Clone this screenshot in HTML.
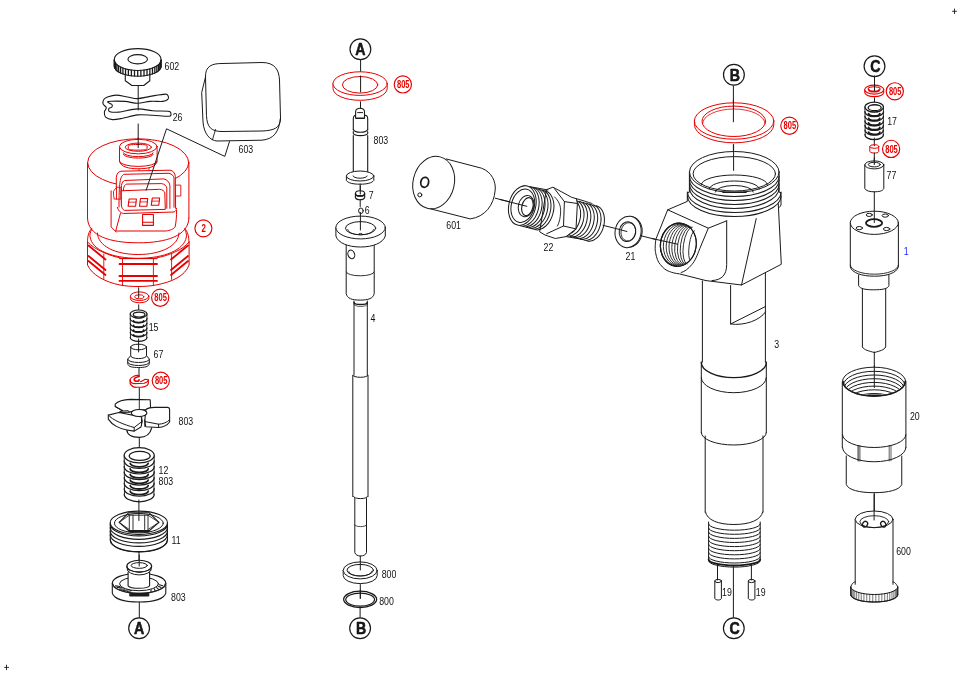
<!DOCTYPE html>
<html><head><meta charset="utf-8"><style>
html,body{margin:0;padding:0;background:#fff;width:960px;height:678px;overflow:hidden}
svg{display:block;will-change:transform}
text{font-family:"Liberation Sans",sans-serif}
</style></head><body>
<svg width="960" height="678" viewBox="0 0 960 678" stroke-linecap="round" stroke-linejoin="round">
<rect width="960" height="678" fill="#fff"/>
<line x1="952.50" y1="11.30" x2="956.50" y2="11.30" stroke="#1a1a1a" stroke-width="0.9"/>
<line x1="954.50" y1="9.00" x2="954.50" y2="13.60" stroke="#1a1a1a" stroke-width="0.9"/>
<line x1="4.60" y1="667.40" x2="8.60" y2="667.40" stroke="#1a1a1a" stroke-width="0.9"/>
<line x1="6.50" y1="665.10" x2="6.50" y2="669.70" stroke="#1a1a1a" stroke-width="0.9"/>
<line x1="138.20" y1="85.50" x2="138.20" y2="110.00" stroke="#1a1a1a" stroke-width="1"/>
<line x1="138.20" y1="124.00" x2="138.20" y2="147.00" stroke="#1a1a1a" stroke-width="1"/>
<path d="M114.3,59.6 A23.4,10.95 0 0 1 161.1,59.6 L161.1,66.2 A23.4,10 0 0 1 114.3,66.2 Z" fill="#fff" stroke="#1a1a1a" stroke-width="1.1"/>
<path d="M114.30,59.60 A23.40,10.95 0 0 0 161.10,59.60" fill="none" stroke="#1a1a1a" stroke-width="1.1"/>
<line x1="114.35" y1="60.35" x2="114.35" y2="66.88" stroke="#1a1a1a" stroke-width="1.3"/>
<line x1="114.79" y1="61.83" x2="114.79" y2="68.23" stroke="#1a1a1a" stroke-width="1.3"/>
<line x1="115.65" y1="63.27" x2="115.65" y2="69.55" stroke="#1a1a1a" stroke-width="1.3"/>
<line x1="116.92" y1="64.64" x2="116.92" y2="70.80" stroke="#1a1a1a" stroke-width="1.3"/>
<line x1="118.58" y1="65.91" x2="118.58" y2="71.97" stroke="#1a1a1a" stroke-width="1.3"/>
<line x1="120.60" y1="67.07" x2="120.60" y2="73.03" stroke="#1a1a1a" stroke-width="1.3"/>
<line x1="122.93" y1="68.09" x2="122.93" y2="73.96" stroke="#1a1a1a" stroke-width="1.3"/>
<line x1="125.54" y1="68.96" x2="125.54" y2="74.74" stroke="#1a1a1a" stroke-width="1.3"/>
<line x1="128.38" y1="69.64" x2="128.38" y2="75.37" stroke="#1a1a1a" stroke-width="1.3"/>
<line x1="131.39" y1="70.14" x2="131.39" y2="75.83" stroke="#1a1a1a" stroke-width="1.3"/>
<line x1="134.51" y1="70.45" x2="134.51" y2="76.11" stroke="#1a1a1a" stroke-width="1.3"/>
<line x1="137.70" y1="70.55" x2="137.70" y2="76.20" stroke="#1a1a1a" stroke-width="1.3"/>
<line x1="140.89" y1="70.45" x2="140.89" y2="76.11" stroke="#1a1a1a" stroke-width="1.3"/>
<line x1="144.01" y1="70.14" x2="144.01" y2="75.83" stroke="#1a1a1a" stroke-width="1.3"/>
<line x1="147.02" y1="69.64" x2="147.02" y2="75.37" stroke="#1a1a1a" stroke-width="1.3"/>
<line x1="149.86" y1="68.96" x2="149.86" y2="74.74" stroke="#1a1a1a" stroke-width="1.3"/>
<line x1="152.47" y1="68.09" x2="152.47" y2="73.96" stroke="#1a1a1a" stroke-width="1.3"/>
<line x1="154.80" y1="67.07" x2="154.80" y2="73.03" stroke="#1a1a1a" stroke-width="1.3"/>
<line x1="156.82" y1="65.91" x2="156.82" y2="71.97" stroke="#1a1a1a" stroke-width="1.3"/>
<line x1="158.48" y1="64.64" x2="158.48" y2="70.80" stroke="#1a1a1a" stroke-width="1.3"/>
<line x1="159.75" y1="63.27" x2="159.75" y2="69.55" stroke="#1a1a1a" stroke-width="1.3"/>
<line x1="160.61" y1="61.83" x2="160.61" y2="68.23" stroke="#1a1a1a" stroke-width="1.3"/>
<line x1="161.05" y1="60.35" x2="161.05" y2="66.88" stroke="#1a1a1a" stroke-width="1.3"/>
<ellipse cx="137.70" cy="59.25" rx="9.80" ry="4.65" fill="none" stroke="#1a1a1a" stroke-width="1.1"/>
<path d="M125.3,74 L125.3,80.8 L131.9,85.5 L143.8,85.5 L149.8,80.8 L149.8,74" fill="none" stroke="#1a1a1a" stroke-width="1.1"/>
<path d="M107.50,97.00 C109.58,96.27 112.95,95.10 116.30,95.10 C119.65,95.10 124.05,96.42 127.60,97.00 C131.15,97.58 133.85,98.70 137.60,98.60 C141.35,98.50 145.50,97.15 150.10,96.40 C154.70,95.65 162.17,94.10 165.20,94.10 C168.23,94.10 167.88,95.50 168.30,96.40 C168.72,97.30 168.63,98.67 167.70,99.50 C166.77,100.33 165.63,101.08 162.70,101.40 C159.77,101.72 154.28,101.08 150.10,101.40 C145.92,101.72 141.77,103.30 137.60,103.30 C133.43,103.30 129.48,101.75 125.10,101.40 C120.72,101.05 114.23,101.10 111.30,101.20 C108.37,101.30 107.40,101.45 107.50,102.00 C107.60,102.55 111.17,103.67 111.90,104.50 C112.63,105.33 112.42,106.30 111.90,107.00 C111.38,107.70 109.12,107.92 108.80,108.70 C108.48,109.48 108.33,111.13 110.00,111.70 C111.67,112.27 114.20,112.57 118.80,112.10 C123.40,111.63 131.97,109.12 137.60,108.90 C143.23,108.68 147.48,110.42 152.60,110.80 C157.72,111.18 165.27,110.78 168.30,111.20 C171.33,111.62 170.70,112.47 170.80,113.30 C170.90,114.13 171.93,115.88 168.90,116.20 C165.87,116.52 157.82,115.42 152.60,115.20 C147.38,114.98 142.60,114.38 137.60,114.90 C132.60,115.42 126.78,117.52 122.60,118.30 C118.42,119.08 115.33,119.80 112.50,119.60 C109.67,119.40 106.95,118.37 105.60,117.10 C104.25,115.83 104.28,113.57 104.40,112.00 C104.52,110.43 106.52,109.05 106.30,107.70 C106.08,106.35 103.52,105.27 103.10,103.90 C102.68,102.53 103.07,100.65 103.80,99.50 C104.53,98.35 105.42,97.73 107.50,97.00 Z" fill="none" stroke="#1a1a1a" stroke-width="1.1"/>
<text x="0" y="0" font-size="10" fill="#111" text-anchor="start" transform="translate(164.50 70.10) scale(0.88 1)">602</text>
<text x="0" y="0" font-size="10" fill="#111" text-anchor="start" transform="translate(172.70 120.80) scale(0.88 1)">26</text>
<path d="M205.5,77 C205,66 212,63.5 222,63.5 L262,62.5 C275,62.5 279,70 279.5,80 L280.5,118 C280.5,128 274,130.5 262,131 L222,131.5 C211,131.5 207,127 206.5,116 Z" fill="none" stroke="#1a1a1a" stroke-width="1"/>
<path d="M205.5,77 L201.7,92.5 L203,122 C204,134 210,140.5 217,141 L262,140.2 C274,139 279,132 280.5,118" fill="none" stroke="#1a1a1a" stroke-width="1"/>
<line x1="215.50" y1="129.50" x2="212.50" y2="139.70" stroke="#1a1a1a" stroke-width="0.9"/>
<text x="0" y="0" font-size="10" fill="#111" text-anchor="start" transform="translate(238.50 152.60) scale(0.88 1)">603</text>
<path d="M87.5,242 L87.5,265 C92,275 105,282 120,285 C130,287 146,287 156,285 C172,282 185,276 189.1,265 L189.1,242" fill="none" stroke="#e60000" stroke-width="1"/>
<path d="M87.5,242 C95,250 110,256 122.6,258.5 L153.4,258.5 C168,256 183,250 189.1,242" fill="none" stroke="#e60000" stroke-width="1"/>
<line x1="122.50" y1="259.00" x2="122.50" y2="285.50" stroke="#e60000" stroke-width="0.9"/>
<line x1="153.40" y1="259.00" x2="153.40" y2="285.50" stroke="#e60000" stroke-width="0.9"/>
<line x1="103.80" y1="254.00" x2="103.80" y2="279.50" stroke="#e60000" stroke-width="0.9"/>
<line x1="171.60" y1="254.00" x2="171.60" y2="279.50" stroke="#e60000" stroke-width="0.9"/>
<line x1="119.50" y1="264.00" x2="157.00" y2="264.00" stroke="#e60000" stroke-width="1.9"/>
<line x1="119.50" y1="276.00" x2="157.00" y2="276.00" stroke="#e60000" stroke-width="1.9"/>
<line x1="119.50" y1="280.90" x2="157.00" y2="280.90" stroke="#e60000" stroke-width="1.9"/>
<line x1="88.50" y1="245.50" x2="105.50" y2="259.50" stroke="#e60000" stroke-width="1.8"/>
<line x1="188.00" y1="245.50" x2="171.00" y2="259.50" stroke="#e60000" stroke-width="1.8"/>
<line x1="88.50" y1="256.00" x2="105.50" y2="270.00" stroke="#e60000" stroke-width="1.8"/>
<line x1="188.00" y1="256.00" x2="171.00" y2="270.00" stroke="#e60000" stroke-width="1.8"/>
<line x1="88.50" y1="261.00" x2="105.50" y2="275.00" stroke="#e60000" stroke-width="1.8"/>
<line x1="188.00" y1="261.00" x2="171.00" y2="275.00" stroke="#e60000" stroke-width="1.8"/>
<line x1="119.50" y1="258.60" x2="157.00" y2="258.60" stroke="#e60000" stroke-width="1"/>
<line x1="87.50" y1="162.60" x2="87.50" y2="218.00" stroke="#e60000" stroke-width="1"/>
<line x1="188.90" y1="162.60" x2="188.90" y2="218.00" stroke="#e60000" stroke-width="1"/>
<path d="M87.5,218 C87.8,236 110,242.8 138.2,242.8 C166,242.8 188.6,236 188.9,218" fill="none" stroke="#e60000" stroke-width="1"/>
<path d="M91.7,228.4 C89,231 87.3,236 87.5,243" fill="none" stroke="#e60000" stroke-width="1"/>
<path d="M184.7,228.4 C187.4,231 189.1,236 188.9,243" fill="none" stroke="#e60000" stroke-width="1"/>
<path d="M91.7,229.2 C90,232 89.5,236 90.1,237 C92,250 112,258.3 138.2,258.3 C164,258.3 184.4,250 186.3,237 C186.9,236 186.4,232 184.7,229.2" fill="none" stroke="#e60000" stroke-width="1"/>
<path d="M97.4,233 C97.8,246 115,254.5 138.2,254.5 C161,254.5 178.6,246 179,233" fill="none" stroke="#e60000" stroke-width="1"/>
<ellipse cx="138.20" cy="162.60" rx="50.50" ry="23.80" fill="none" stroke="#e60000" stroke-width="1"/>
<path d="M119.5,146.6 L119.5,161.4 C121,167 129,168.8 138.3,168.8 C148,168.8 156,167 157.1,161.4 L157.1,146.6" fill="#fff" stroke="#e60000" stroke-width="1"/>
<ellipse cx="138.30" cy="146.60" rx="18.80" ry="7.25" fill="#fff" stroke="#e60000" stroke-width="1"/>
<ellipse cx="138.30" cy="147.20" rx="13.10" ry="4.10" fill="none" stroke="#e60000" stroke-width="1"/>
<path d="M128.3,146 C128.3,144.8 131,144.5 138,144.5 C145,144.5 147.1,144.8 147.1,146 L147.1,148.6 C147.1,149.8 145,150.1 138,150.1 C131,150.1 128.3,149.8 128.3,148.6 Z" fill="none" stroke="#e60000" stroke-width="1"/>
<path d="M123.30,152.80 A15.00,3.80 0 0 0 153.30,152.80" fill="none" stroke="#e60000" stroke-width="1"/>
<path d="M123.30,154.30 A15.00,3.80 0 0 0 153.30,154.30" fill="none" stroke="#e60000" stroke-width="1"/>
<path d="M119.50,161.40 A18.80,5.00 0 0 0 157.10,161.40" fill="none" stroke="#e60000" stroke-width="1"/>
<path d="M139,168.5 L139,170.5 M149,168 L149,170.5" fill="none" stroke="#e60000" stroke-width="0.8"/>
<line x1="138.20" y1="138.00" x2="138.20" y2="147.60" stroke="#1a1a1a" stroke-width="1"/>
<path d="M111.1,190.8 L111.1,226.9 L116.3,232.1 C118,232.8 120,233 123,233 L165.8,232 C170,231.5 174,229.5 175.1,226.9 C176.5,222 176.8,215 176.6,208.3 L176.6,186 L116.3,186 L116.3,186.7 L113.5,190.5 Z" fill="#fff" stroke="#e60000" stroke-width="0"/>
<path d="M116.3,186.7 L116.3,177.4 C116.8,173.5 118.5,171.4 121,171.2 L170,170.2 C173,170.5 175,173 175.3,176.4 L175.6,208.3" fill="#fff" stroke="#e60000" stroke-width="1"/>
<path d="M111.1,190.8 L111.1,226.9 L116.3,232.1" fill="none" stroke="#e60000" stroke-width="1"/>
<path d="M119,207 C119,183 120,176 124,174.3 L168.9,173.3 C172,174 174,176 174,178.4 L174,207.3" fill="none" stroke="#e60000" stroke-width="1"/>
<path d="M121.4,206 L121.4,185.6 C122,182.5 123,181 124.5,180.5 L163.7,178.9 C167,179.5 169.5,182 169.9,185.6 L169.9,208.3" fill="none" stroke="#e60000" stroke-width="1"/>
<path d="M123.5,206 L123.5,188.7 C124,186 125,184.5 126.6,184.1 L161.7,183.6 C164.5,184 166.5,186 166.8,188.2 L166.8,208.3" fill="none" stroke="#e60000" stroke-width="1"/>
<path d="M121.4,190.8 L159.6,189.3 C162.5,189.6 164.5,191 164.8,192.9 L165.3,209.4 L124.5,210.4 C122.5,209.5 121.4,207.5 121.4,205 Z" fill="#fff" stroke="#e60000" stroke-width="1"/>
<path d="M117.3,207.3 C118.5,211 120.5,213 123.5,213.5 L174,212 C175.5,211.5 176.3,210 176.6,208.3" fill="none" stroke="#e60000" stroke-width="1"/>
<path d="M120.4,213.5 L115.7,231 L165.8,231 C170,230.5 174,229 175.1,226.9 C176.2,222 176.6,216 176.6,210.4" fill="none" stroke="#e60000" stroke-width="1"/>
<path d="M113.7,191 L116.5,187.2 L120.9,187.2 L120.9,199.1 L114.2,199.1 L113.7,196 Z M116.5,187.2 L116.5,199.1" fill="none" stroke="#e60000" stroke-width="0.9"/>
<path d="M175.6,185.1 L180.8,185.1 L180.8,196 L175.6,196" fill="none" stroke="#e60000" stroke-width="0.9"/>
<path d="M129.10,199.00 L136.40,199.00 L135.60,206.30 L128.10,206.30 Z" fill="none" stroke="#e60000" stroke-width="1.1"/>
<line x1="128.70" y1="202.15" x2="136.00" y2="202.15" stroke="#e60000" stroke-width="0.8"/>
<path d="M140.50,198.50 L147.70,198.50 L146.90,206.30 L139.50,206.30 Z" fill="none" stroke="#e60000" stroke-width="1.1"/>
<line x1="140.10" y1="201.90" x2="147.30" y2="201.90" stroke="#e60000" stroke-width="0.8"/>
<path d="M152.30,198.00 L159.60,198.00 L158.80,205.20 L151.30,205.20 Z" fill="none" stroke="#e60000" stroke-width="1.1"/>
<line x1="151.90" y1="201.10" x2="159.20" y2="201.10" stroke="#e60000" stroke-width="0.8"/>
<path d="M142.6,214.5 L153.4,214.5 L153.4,225.4 L142.6,225.4 Z M142.6,222.3 L153.4,222.3" fill="none" stroke="#e60000" stroke-width="1.1"/>
<ellipse cx="203.40" cy="228.30" rx="8.50" ry="8.50" fill="#fff" stroke="#e60000" stroke-width="1.15"/>
<text x="0" y="0" font-size="10.5" fill="#e60000" font-weight="bold" text-anchor="middle" transform="translate(203.80 231.90) scale(0.75 1)">2</text>
<path d="M229.5,141.5 L224.8,156.4 L166.5,128.8 L146.2,190.2" fill="none" stroke="#1a1a1a" stroke-width="1"/>
<path d="M130.4,296.2 L130.4,298.5 A9.2,4.3 0 0 0 148.8,298.5 L148.8,296.2" fill="#fff" stroke="#e60000" stroke-width="1"/>
<ellipse cx="139.60" cy="296.20" rx="9.20" ry="4.30" fill="#fff" stroke="#e60000" stroke-width="1"/>
<ellipse cx="139.20" cy="296.80" rx="4.60" ry="2.00" fill="none" stroke="#e60000" stroke-width="1"/>
<ellipse cx="160.20" cy="297.70" rx="8.60" ry="8.60" fill="#fff" stroke="#e60000" stroke-width="1.15"/>
<text x="0" y="0" font-size="10.2" fill="#e60000" font-weight="bold" text-anchor="middle" transform="translate(160.60 301.30) scale(0.74 1)">805</text>
<line x1="138.70" y1="287.70" x2="138.70" y2="297.50" stroke="#1a1a1a" stroke-width="1"/>
<line x1="138.70" y1="304.80" x2="138.70" y2="313.00" stroke="#1a1a1a" stroke-width="1"/>
<path d="M130.20,314.00 L130.50,337.40 M147.00,314.00 L146.70,337.40" fill="none" stroke="#1a1a1a" stroke-width="0.9"/>
<path d="M133.56,316.11 A5.04,1.80 0 0 0 143.64,316.11" fill="none" stroke="#1a1a1a" stroke-width="1.7999999999999998"/>
<path d="M133.56,320.79 A5.04,1.80 0 0 0 143.64,320.79" fill="none" stroke="#1a1a1a" stroke-width="1.7999999999999998"/>
<path d="M133.56,325.47 A5.04,1.80 0 0 0 143.64,325.47" fill="none" stroke="#1a1a1a" stroke-width="1.7999999999999998"/>
<path d="M133.56,330.15 A5.04,1.80 0 0 0 143.64,330.15" fill="none" stroke="#1a1a1a" stroke-width="1.7999999999999998"/>
<path d="M133.56,334.83 A5.04,1.80 0 0 0 143.64,334.83" fill="none" stroke="#1a1a1a" stroke-width="1.7999999999999998"/>
<path d="M130.20,318.68 A8.40,4.00 0 0 0 147.00,318.68" fill="none" stroke="#1a1a1a" stroke-width="1.2"/>
<path d="M130.20,323.36 A8.40,4.00 0 0 0 147.00,323.36" fill="none" stroke="#1a1a1a" stroke-width="1.2"/>
<path d="M130.20,328.04 A8.40,4.00 0 0 0 147.00,328.04" fill="none" stroke="#1a1a1a" stroke-width="1.2"/>
<path d="M130.20,332.72 A8.40,4.00 0 0 0 147.00,332.72" fill="none" stroke="#1a1a1a" stroke-width="1.2"/>
<path d="M130.20,337.40 A8.40,4.00 0 0 0 147.00,337.40" fill="none" stroke="#1a1a1a" stroke-width="1.2"/>
<ellipse cx="138.60" cy="314.00" rx="8.40" ry="4.00" fill="#fff" stroke="#1a1a1a" stroke-width="1.2"/>
<ellipse cx="139.10" cy="314.60" rx="5.88" ry="2.40" fill="none" stroke="#1a1a1a" stroke-width="1.2"/>
<text x="0" y="0" font-size="10" fill="#111" text-anchor="start" transform="translate(148.70 330.80) scale(0.88 1)">15</text>
<ellipse cx="138.60" cy="347.00" rx="7.90" ry="2.80" fill="none" stroke="#1a1a1a" stroke-width="1"/>
<path d="M130.7,347 L130.7,355.7 L127.7,359 L127.7,363.5 C128,367 133,367.5 138.6,367.5 C144,367.5 149,367 149.3,363.5 L149.3,359 L146.5,355.7 L146.5,347" fill="none" stroke="#1a1a1a" stroke-width="1"/>
<path d="M130.60,356.00 A8.00,2.60 0 0 0 146.60,356.00" fill="none" stroke="#1a1a1a" stroke-width="1"/>
<path d="M127.80,359.50 A10.80,3.00 0 0 0 149.40,359.50" fill="none" stroke="#1a1a1a" stroke-width="1"/>
<path d="M127.80,362.50 A10.80,3.00 0 0 0 149.40,362.50" fill="none" stroke="#1a1a1a" stroke-width="1"/>
<text x="0" y="0" font-size="10" fill="#111" text-anchor="start" transform="translate(153.60 357.80) scale(0.88 1)">67</text>
<line x1="138.60" y1="339.00" x2="138.60" y2="352.00" stroke="#1a1a1a" stroke-width="1"/>
<line x1="139.00" y1="368.00" x2="139.00" y2="376.20" stroke="#1a1a1a" stroke-width="1"/>
<path d="M139.1,375.6 C136,375 131,376.5 130.1,379.7 C130,382 132,383.4 134.4,383.6 L144.1,383.2 C146.5,382.5 148.3,381 148.3,379.7 L145.2,379.3 C143.5,380.5 142,381.3 140.6,381.6" fill="none" stroke="#e60000" stroke-width="1.15"/>
<path d="M130.1,379.7 L130.1,383.6 C131.5,386 134,387.3 136.3,387.3 L142.3,387.1 C145,386.5 148.3,385 148.3,383.2 L148.3,379.7" fill="none" stroke="#e60000" stroke-width="1.15"/>
<path d="M139.1,376.5 C136.5,377 134.2,378 134.2,379.3 C134.2,380.6 135.5,381.3 136.7,381.3 C138,381.3 139.1,380.6 139.1,379.7" fill="none" stroke="#e60000" stroke-width="1.6"/>
<ellipse cx="160.80" cy="380.80" rx="8.60" ry="8.60" fill="#fff" stroke="#e60000" stroke-width="1.15"/>
<text x="0" y="0" font-size="10.2" fill="#e60000" font-weight="bold" text-anchor="middle" transform="translate(161.20 384.40) scale(0.74 1)">805</text>
<line x1="139.30" y1="388.00" x2="139.30" y2="413.00" stroke="#1a1a1a" stroke-width="1"/>
<path d="M126.9,430 C127,434 131,437.3 139.3,437.3 C146,437.3 150,435 151.7,427.8" fill="#fff" stroke="#1a1a1a" stroke-width="1.2"/>
<path d="M115.2,404.1 C118,401 124,399.6 130.5,399.4 L150.2,399.7 L150.6,408.1 L145.8,409.6 L139,410 L129.1,412.1 L118.9,412.5 L122.5,410.5 L115.2,406.5 Z" fill="#fff" stroke="#1a1a1a" stroke-width="1.1"/>
<path d="M115.2,406.5 L122.5,411 L128.3,410.7 L129.1,412.1" fill="none" stroke="#1a1a1a" stroke-width="1"/>
<line x1="139.30" y1="399.00" x2="139.30" y2="412.00" stroke="#1a1a1a" stroke-width="0.9"/>
<path d="M145.8,409.6 C148,408 151,407.4 154.6,407.4 L167.7,407.4 C169,407.6 169.6,408.5 169.6,409.6 L169.6,422 C167,425.5 163,427.3 158.6,427.5 L145.8,426.7 L144.8,421 Z" fill="#fff" stroke="#1a1a1a" stroke-width="1.1"/>
<path d="M169.6,419.8 C167,422.5 163,424 158.6,424.2 L145.1,421.6 M158.6,424.2 L158.6,427.5" fill="none" stroke="#1a1a1a" stroke-width="1"/>
<path d="M108.3,415.1 L118.9,412.5 L141.5,416.9 L142.2,421.3 L141,427 L134.2,431.1 L126.9,430 C120,429 112,425 108.3,419.1 Z" fill="#fff" stroke="#1a1a1a" stroke-width="1.1"/>
<path d="M108.3,415.1 C112,420 125,425 134.2,427.5 L142.2,421.3 M134.2,427.5 L134.2,431.1" fill="none" stroke="#1a1a1a" stroke-width="1"/>
<path d="M141.5,418.5 L141.5,425.6 M144.8,419.8 L144.8,426.4" fill="none" stroke="#1a1a1a" stroke-width="1"/>
<ellipse cx="139.10" cy="413.00" rx="7.80" ry="3.50" fill="#fff" stroke="#1a1a1a" stroke-width="1.1"/>
<line x1="139.30" y1="437.50" x2="139.30" y2="447.00" stroke="#1a1a1a" stroke-width="1"/>
<text x="0" y="0" font-size="10" fill="#111" text-anchor="start" transform="translate(178.50 424.50) scale(0.88 1)">803</text>
<path d="M124.20,455.30 L124.50,494.20 M154.20,455.30 L153.90,494.20" fill="none" stroke="#1a1a1a" stroke-width="0.9"/>
<path d="M130.20,457.80 A9.00,3.42 0 0 0 148.20,457.80" fill="none" stroke="#1a1a1a" stroke-width="1.7999999999999998"/>
<path d="M130.20,463.36 A9.00,3.42 0 0 0 148.20,463.36" fill="none" stroke="#1a1a1a" stroke-width="1.7999999999999998"/>
<path d="M130.20,468.92 A9.00,3.42 0 0 0 148.20,468.92" fill="none" stroke="#1a1a1a" stroke-width="1.7999999999999998"/>
<path d="M130.20,474.47 A9.00,3.42 0 0 0 148.20,474.47" fill="none" stroke="#1a1a1a" stroke-width="1.7999999999999998"/>
<path d="M130.20,480.03 A9.00,3.42 0 0 0 148.20,480.03" fill="none" stroke="#1a1a1a" stroke-width="1.7999999999999998"/>
<path d="M130.20,485.59 A9.00,3.42 0 0 0 148.20,485.59" fill="none" stroke="#1a1a1a" stroke-width="1.7999999999999998"/>
<path d="M130.20,491.14 A9.00,3.42 0 0 0 148.20,491.14" fill="none" stroke="#1a1a1a" stroke-width="1.7999999999999998"/>
<path d="M124.20,460.86 A15.00,7.60 0 0 0 154.20,460.86" fill="none" stroke="#1a1a1a" stroke-width="1.2"/>
<path d="M124.20,466.41 A15.00,7.60 0 0 0 154.20,466.41" fill="none" stroke="#1a1a1a" stroke-width="1.2"/>
<path d="M124.20,471.97 A15.00,7.60 0 0 0 154.20,471.97" fill="none" stroke="#1a1a1a" stroke-width="1.2"/>
<path d="M124.20,477.53 A15.00,7.60 0 0 0 154.20,477.53" fill="none" stroke="#1a1a1a" stroke-width="1.2"/>
<path d="M124.20,483.09 A15.00,7.60 0 0 0 154.20,483.09" fill="none" stroke="#1a1a1a" stroke-width="1.2"/>
<path d="M124.20,488.64 A15.00,7.60 0 0 0 154.20,488.64" fill="none" stroke="#1a1a1a" stroke-width="1.2"/>
<path d="M124.20,494.20 A15.00,7.60 0 0 0 154.20,494.20" fill="none" stroke="#1a1a1a" stroke-width="1.2"/>
<ellipse cx="139.20" cy="455.30" rx="15.00" ry="7.60" fill="#fff" stroke="#1a1a1a" stroke-width="1.2"/>
<ellipse cx="139.70" cy="455.90" rx="10.50" ry="4.56" fill="none" stroke="#1a1a1a" stroke-width="1.2"/>
<text x="0" y="0" font-size="10" fill="#111" text-anchor="start" transform="translate(158.50 473.80) scale(0.88 1)">12</text>
<text x="0" y="0" font-size="10" fill="#111" text-anchor="start" transform="translate(158.50 484.50) scale(0.88 1)">803</text>
<path d="M110.3,522.8 L110.3,540 C112,548 124,552 138.85,552 C154,552 166,548 167.4,540 L167.4,522.8" fill="#fff" stroke="#1a1a1a" stroke-width="1.1"/>
<path d="M110.25,539.90 A28.60,11.70 0 0 0 167.45,539.90" fill="none" stroke="#1a1a1a" stroke-width="1.15"/>
<path d="M110.25,534.70 A28.60,11.70 0 0 0 167.45,534.70" fill="none" stroke="#1a1a1a" stroke-width="1.15"/>
<path d="M110.25,531.20 A28.60,11.70 0 0 0 167.45,531.20" fill="none" stroke="#1a1a1a" stroke-width="1.15"/>
<path d="M110.25,527.60 A28.60,11.70 0 0 0 167.45,527.60" fill="none" stroke="#1a1a1a" stroke-width="1.15"/>
<path d="M110.25,524.20 A28.60,11.70 0 0 0 167.45,524.20" fill="none" stroke="#1a1a1a" stroke-width="1.15"/>
<ellipse cx="138.85" cy="522.80" rx="28.60" ry="11.70" fill="#fff" stroke="#1a1a1a" stroke-width="1.1"/>
<ellipse cx="138.85" cy="523.20" rx="24.40" ry="9.70" fill="none" stroke="#1a1a1a" stroke-width="1"/>
<path d="M128.5,512.8 L149.2,512.8 L158.9,522.4 L149.5,530.5 L128.5,530.5 L119.2,522.4 Z" fill="none" stroke="#1a1a1a" stroke-width="1.1"/>
<path d="M129.5,515.2 L147.8,515.2 M129.3,515 L129.3,529.5 M133,515.2 L133,529.5 M144.7,515.2 L144.7,529.5 M148,515.2 L148,529.5" fill="none" stroke="#1a1a1a" stroke-width="0.9"/>
<path d="M119.2,522.4 L129.3,515.2 M158.9,522.4 L148,515.2 M119.2,522.4 L129.3,529.5 M158.9,522.4 L148,529.5" fill="none" stroke="#1a1a1a" stroke-width="0.8"/>
<line x1="129.00" y1="531.60" x2="149.00" y2="531.60" stroke="#1a1a1a" stroke-width="1.6"/>
<line x1="138.90" y1="500.00" x2="138.90" y2="520.50" stroke="#1a1a1a" stroke-width="1"/>
<text x="0" y="0" font-size="10" fill="#111" text-anchor="start" transform="translate(171.60 543.80) scale(0.88 1)">11</text>
<line x1="139.00" y1="552.00" x2="139.00" y2="561.00" stroke="#1a1a1a" stroke-width="1"/>
<path d="M112.3,583.2 L112.3,593.1 C114,599 125,602 139.05,602 C153,602 164,599 165.8,593.1 L165.8,583.2" fill="#fff" stroke="#1a1a1a" stroke-width="1.1"/>
<ellipse cx="139.05" cy="583.20" rx="26.75" ry="10.00" fill="#fff" stroke="#1a1a1a" stroke-width="1.1"/>
<ellipse cx="139.05" cy="583.80" rx="19.50" ry="6.90" fill="none" stroke="#1a1a1a" stroke-width="1"/>
<path d="M113.05,584.00 A26.00,9.60 0 0 0 165.05,584.00" fill="none" stroke="#1a1a1a" stroke-width="0.8"/>
<line x1="115.32" y1="585.84" x2="119.95" y2="586.49" stroke="#1a1a1a" stroke-width="1.1"/>
<line x1="117.04" y1="587.55" x2="121.84" y2="587.82" stroke="#1a1a1a" stroke-width="1.1"/>
<line x1="119.65" y1="589.10" x2="124.44" y2="588.99" stroke="#1a1a1a" stroke-width="1.1"/>
<line x1="123.07" y1="590.42" x2="127.64" y2="589.95" stroke="#1a1a1a" stroke-width="1.1"/>
<line x1="127.14" y1="591.47" x2="131.30" y2="590.65" stroke="#1a1a1a" stroke-width="1.1"/>
<line x1="150.96" y1="591.47" x2="151.09" y2="589.79" stroke="#1a1a1a" stroke-width="1.1"/>
<line x1="155.03" y1="590.42" x2="154.18" y2="588.79" stroke="#1a1a1a" stroke-width="1.1"/>
<line x1="158.45" y1="589.10" x2="156.66" y2="587.59" stroke="#1a1a1a" stroke-width="1.1"/>
<line x1="161.06" y1="587.55" x2="158.41" y2="586.23" stroke="#1a1a1a" stroke-width="1.1"/>
<line x1="162.78" y1="585.84" x2="159.37" y2="584.77" stroke="#1a1a1a" stroke-width="1.1"/>
<path d="M130.1,593.3 L148.8,593.3 L148.8,596 L130.1,596 Z" fill="#1a1a1a" stroke="#1a1a1a" stroke-width="1"/>
<path d="M128.1,572 L128.1,585.8 C130,588 134,588.3 139.2,588.3 C144,588.3 148,588 149.6,585.8 L149.6,572" fill="#fff" stroke="#1a1a1a" stroke-width="1.1"/>
<ellipse cx="139.25" cy="566.20" rx="12.40" ry="5.90" fill="#fff" stroke="#1a1a1a" stroke-width="1.1"/>
<ellipse cx="139.25" cy="565.50" rx="8.10" ry="2.85" fill="none" stroke="#1a1a1a" stroke-width="1"/>
<path d="M126.85,566.20 A12.40,5.90 0 0 0 151.65,566.20" fill="none" stroke="#1a1a1a" stroke-width="1.1"/>
<path d="M127.05,569.00 A12.20,5.90 0 0 0 151.45,569.00" fill="none" stroke="#1a1a1a" stroke-width="1.0"/>
<line x1="139.20" y1="555.00" x2="139.20" y2="566.00" stroke="#1a1a1a" stroke-width="1"/>
<text x="0" y="0" font-size="10" fill="#111" text-anchor="start" transform="translate(171.00 601.10) scale(0.88 1)">803</text>
<line x1="139.30" y1="602.00" x2="139.30" y2="618.00" stroke="#1a1a1a" stroke-width="1"/>
<ellipse cx="139.10" cy="628.30" rx="10.40" ry="10.40" fill="#fff" stroke="#1a1a1a" stroke-width="1.2"/>
<text x="0" y="0" font-size="16.5" fill="#1a1a1a" font-weight="bold" text-anchor="middle" transform="translate(139.10 634.30) scale(0.86 1)" stroke="#000" stroke-width="0.5">A</text>
<ellipse cx="360.40" cy="49.30" rx="10.40" ry="10.40" fill="#fff" stroke="#1a1a1a" stroke-width="1.2"/>
<text x="0" y="0" font-size="16.5" fill="#1a1a1a" font-weight="bold" text-anchor="middle" transform="translate(360.40 55.30) scale(0.86 1)" stroke="#000" stroke-width="0.5">A</text>
<line x1="360.60" y1="59.50" x2="360.60" y2="83.00" stroke="#1a1a1a" stroke-width="1"/>
<path d="M333,83.6 L333,88.5 A27.1,11.8 0 0 0 387.2,88.5 L387.2,83.6" fill="#fff" stroke="#e60000" stroke-width="1"/>
<ellipse cx="360.10" cy="83.60" rx="27.10" ry="11.80" fill="#fff" stroke="#e60000" stroke-width="1"/>
<ellipse cx="360.10" cy="84.80" rx="17.70" ry="8.30" fill="none" stroke="#e60000" stroke-width="1"/>
<line x1="360.60" y1="76.00" x2="360.60" y2="92.00" stroke="#1a1a1a" stroke-width="1"/>
<ellipse cx="402.85" cy="84.40" rx="8.60" ry="8.60" fill="#fff" stroke="#e60000" stroke-width="1.15"/>
<text x="0" y="0" font-size="10.2" fill="#e60000" font-weight="bold" text-anchor="middle" transform="translate(403.25 88.00) scale(0.74 1)">805</text>
<path d="M353.3,175 L353.3,135.5 M367.7,175 L367.7,135.5" fill="none" stroke="#1a1a1a" stroke-width="1.1"/>
<path d="M353.3,129.5 L353.3,118.5 C353.5,115.8 355,115 356.8,115.6 M367.7,129.5 L367.7,118.5 C367.5,115.8 366,115 364.3,115.6" fill="none" stroke="#1a1a1a" stroke-width="1.1"/>
<path d="M355.6,117.7 L355.6,111.5 C356,109 358,108.3 360.1,108.3 C362.2,108.3 364.2,109 364.5,111.5 L364.5,117.7" fill="#fff" stroke="#1a1a1a" stroke-width="1.1"/>
<line x1="357.60" y1="112.60" x2="362.60" y2="112.60" stroke="#1a1a1a" stroke-width="1"/>
<line x1="356.00" y1="118.20" x2="364.20" y2="118.20" stroke="#1a1a1a" stroke-width="1.6"/>
<path d="M353.3,129.5 C354,131.5 357,132.2 360.5,132.2 C364,132.2 367,131.5 367.7,129.5" fill="none" stroke="#1a1a1a" stroke-width="1.1"/>
<path d="M353.3,131.5 L353.3,133.5 C354,135 357,135.6 360.5,135.6 C364,135.6 367,135 367.7,133.5 L367.7,131.5" fill="none" stroke="#1a1a1a" stroke-width="1.1"/>
<line x1="360.50" y1="101.80" x2="360.50" y2="108.30" stroke="#1a1a1a" stroke-width="1"/>
<path d="M346.4,176 L346.4,180.5 C348,183 353,184.2 360,184.2 C367,184.2 372,183 373.8,180.5 L373.8,176" fill="#fff" stroke="#1a1a1a" stroke-width="1"/>
<ellipse cx="360.10" cy="176.00" rx="13.70" ry="5.00" fill="#fff" stroke="#1a1a1a" stroke-width="1"/>
<path d="M353.00,176.00 A7.10,2.20 0 0 0 367.20,176.00" fill="none" stroke="#1a1a1a" stroke-width="1"/>
<text x="0" y="0" font-size="10" fill="#111" text-anchor="start" transform="translate(373.50 144.20) scale(0.88 1)">803</text>
<line x1="360.20" y1="184.00" x2="360.20" y2="190.00" stroke="#1a1a1a" stroke-width="1"/>
<path d="M355.4,193.5 L355.4,197.5 C356,199.4 358,199.7 360,199.7 C362,199.7 364,199.4 364.7,197.5 L364.7,193.5" fill="#fff" stroke="#1a1a1a" stroke-width="1.1"/>
<ellipse cx="360.05" cy="193.50" rx="4.65" ry="2.80" fill="#fff" stroke="#1a1a1a" stroke-width="1.1"/>
<path d="M355.85,194.20 A4.20,1.60 0 0 0 364.25,194.20" fill="none" stroke="#1a1a1a" stroke-width="1.4"/>
<line x1="360.30" y1="186.00" x2="360.30" y2="194.00" stroke="#1a1a1a" stroke-width="1"/>
<text x="0" y="0" font-size="10" fill="#111" text-anchor="start" transform="translate(368.70 198.60) scale(0.88 1)">7</text>
<line x1="360.20" y1="199.50" x2="360.20" y2="206.50" stroke="#1a1a1a" stroke-width="1"/>
<ellipse cx="360.90" cy="210.80" rx="2.30" ry="2.80" fill="none" stroke="#1a1a1a" stroke-width="1"/>
<text x="0" y="0" font-size="10" fill="#111" text-anchor="start" transform="translate(364.70 213.60) scale(0.88 1)">6</text>
<path d="M346.2,240 L346.2,293.5 C347,298.5 352,300.1 360.2,300.1 C368,300.1 373.5,298.5 374.2,293.5 L374.2,240" fill="#fff" stroke="#1a1a1a" stroke-width="1"/>
<path d="M346.20,272.00 A14.00,3.80 0 0 0 374.20,272.00" fill="none" stroke="#1a1a1a" stroke-width="0.9"/>
<ellipse cx="351.30" cy="254.40" rx="3.30" ry="4.40" fill="none" stroke="#1a1a1a" stroke-width="1" transform="rotate(-20 351.3 254.4)"/>
<path d="M335.9,227.5 L335.9,236 C338,243 348,247 360.6,247 C373,247 383,243 385.3,236 L385.3,227.5" fill="#fff" stroke="#1a1a1a" stroke-width="1"/>
<ellipse cx="360.60" cy="227.50" rx="24.70" ry="11.40" fill="#fff" stroke="#1a1a1a" stroke-width="1"/>
<ellipse cx="360.60" cy="228.20" rx="15.10" ry="6.60" fill="none" stroke="#1a1a1a" stroke-width="1"/>
<path d="M347.60,229.50 A13.00,5.30 0 0 0 373.60,229.50" fill="none" stroke="#1a1a1a" stroke-width="0.8"/>
<path d="M358,234.5 C358.5,233 362.5,233 363,234.5" fill="none" stroke="#1a1a1a" stroke-width="0.9"/>
<line x1="360.40" y1="212.50" x2="360.40" y2="230.00" stroke="#1a1a1a" stroke-width="1"/>
<path d="M354,301 L354,375 M367.3,301 L367.3,375 M352.8,375.5 L352.8,496.6 M368,375.5 L368,496.6" fill="none" stroke="#1a1a1a" stroke-width="1"/>
<path d="M354.00,302.50 A6.65,2.00 0 0 0 367.30,302.50" fill="none" stroke="#1a1a1a" stroke-width="1.6"/>
<path d="M354.00,304.50 A6.65,2.00 0 0 0 367.30,304.50" fill="none" stroke="#1a1a1a" stroke-width="0.7"/>
<path d="M352.80,375.30 A7.60,2.00 0 0 0 368.00,375.30" fill="none" stroke="#1a1a1a" stroke-width="1.0"/>
<path d="M353.50,496.60 A7.00,2.00 0 0 0 367.50,496.60" fill="none" stroke="#1a1a1a" stroke-width="1"/>
<path d="M354.8,498.5 L354.8,552.5 C355.5,555 358,556 360.6,556 C363,556 365.8,555 366.5,552.5 L366.5,498.5" fill="none" stroke="#1a1a1a" stroke-width="1"/>
<path d="M354.75,525.00 A5.85,1.60 0 0 0 366.45,525.00" fill="none" stroke="#1a1a1a" stroke-width="0.8"/>
<text x="0" y="0" font-size="10" fill="#111" text-anchor="start" transform="translate(370.50 321.70) scale(0.88 1)">4</text>
<path d="M343.2,570.4 L343.2,575.5 A17,8.1 0 0 0 377.2,575.5 L377.2,570.4" fill="#fff" stroke="#1a1a1a" stroke-width="1"/>
<ellipse cx="360.20" cy="570.40" rx="17.00" ry="8.50" fill="#fff" stroke="#1a1a1a" stroke-width="1"/>
<ellipse cx="360.20" cy="570.20" rx="13.20" ry="5.80" fill="none" stroke="#1a1a1a" stroke-width="1"/>
<path d="M348.70,571.50 A11.50,4.50 0 0 0 371.70,571.50" fill="none" stroke="#1a1a1a" stroke-width="0.8"/>
<line x1="360.30" y1="556.00" x2="360.30" y2="570.00" stroke="#1a1a1a" stroke-width="1"/>
<text x="0" y="0" font-size="10" fill="#111" text-anchor="start" transform="translate(381.70 577.90) scale(0.88 1)">800</text>
<line x1="360.30" y1="584.50" x2="360.30" y2="598.40" stroke="#1a1a1a" stroke-width="1"/>
<ellipse cx="360.15" cy="599.35" rx="16.50" ry="8.20" fill="none" stroke="#1a1a1a" stroke-width="1.3"/>
<ellipse cx="360.15" cy="599.60" rx="14.40" ry="6.50" fill="none" stroke="#1a1a1a" stroke-width="1.2"/>
<line x1="360.30" y1="590.00" x2="360.30" y2="598.40" stroke="#1a1a1a" stroke-width="1"/>
<text x="0" y="0" font-size="10" fill="#111" text-anchor="start" transform="translate(379.20 604.80) scale(0.88 1)">800</text>
<line x1="360.10" y1="607.00" x2="360.10" y2="618.00" stroke="#1a1a1a" stroke-width="1"/>
<ellipse cx="360.10" cy="628.20" rx="10.40" ry="10.40" fill="#fff" stroke="#1a1a1a" stroke-width="1.2"/>
<text x="0" y="0" font-size="16.5" fill="#1a1a1a" font-weight="bold" text-anchor="middle" transform="translate(361.00 634.20) scale(0.86 1)" stroke="#000" stroke-width="0.5">B</text>
<ellipse cx="433.70" cy="182.60" rx="20.60" ry="26.50" fill="none" stroke="#1a1a1a" stroke-width="1" transform="rotate(14 433.7 182.6)"/>
<path d="M446.4,159 L481.5,168.2 C492,172 496,182 495.2,190 C494,205 485,217 470.2,218.9 L430.7,208.9" fill="none" stroke="#1a1a1a" stroke-width="1"/>
<ellipse cx="424.70" cy="182.30" rx="3.90" ry="5.00" fill="none" stroke="#1a1a1a" stroke-width="1.8" transform="rotate(14 424.7 182.3)"/>
<ellipse cx="419.80" cy="194.90" rx="2.00" ry="2.00" fill="none" stroke="#1a1a1a" stroke-width="1"/>
<text x="0" y="0" font-size="10" fill="#111" text-anchor="start" transform="translate(446.30 229.30) scale(0.88 1)">601</text>
<line x1="495.20" y1="198.20" x2="526.00" y2="206.00" stroke="#1a1a1a" stroke-width="1"/>
<path d="M0,-18.20 A12.20,18.20 0 0 1 0,18.20" fill="none" stroke="#1a1a1a" stroke-width="1.0" transform="translate(591.80 223.37) rotate(14.3)"/>
<path d="M0,-18.20 A12.20,18.20 0 0 1 0,18.20" fill="none" stroke="#1a1a1a" stroke-width="1.0" transform="translate(588.40 222.48) rotate(14.3)"/>
<path d="M0,-18.20 A12.20,18.20 0 0 1 0,18.20" fill="none" stroke="#1a1a1a" stroke-width="1.0" transform="translate(585.00 221.60) rotate(14.3)"/>
<path d="M0,-18.20 A12.20,18.20 0 0 1 0,18.20" fill="none" stroke="#1a1a1a" stroke-width="1.0" transform="translate(581.60 220.72) rotate(14.3)"/>
<path d="M0,-18.20 A12.20,18.20 0 0 1 0,18.20" fill="none" stroke="#1a1a1a" stroke-width="1.0" transform="translate(578.20 219.83) rotate(14.3)"/>
<path d="M0,-18.20 A12.20,18.20 0 0 1 0,18.20" fill="none" stroke="#1a1a1a" stroke-width="1.0" transform="translate(574.80 218.95) rotate(14.3)"/>
<path d="M0,-18.20 A12.20,18.20 0 0 1 0,18.20" fill="none" stroke="#1a1a1a" stroke-width="1.0" transform="translate(571.40 218.06) rotate(14.3)"/>
<path d="M0,-18.20 A12.20,18.20 0 0 1 0,18.20" fill="none" stroke="#1a1a1a" stroke-width="1.0" transform="translate(568.00 217.18) rotate(14.3)"/>
<path d="M576.4,198.7 C585,201 590,203 592,203.5" fill="none" stroke="#1a1a1a" stroke-width="1"/>
<path d="M566,236.6 L583.1,239.4" fill="none" stroke="#1a1a1a" stroke-width="1"/>
<path d="M546.7,189.6 L552.9,187.2 L555.3,188.4 L571.6,197.3 L576.4,198.7 L577.4,203.5 L576,228.9 L566,236.6 L555.3,238.5 L545,235 L540,232 Z" fill="#fff" stroke="#1a1a1a" stroke-width="1"/>
<path d="M554.4,188.6 L564.4,201.6 L577.4,203.5 M564.4,201.6 L563.5,226 L576,228.9 M563.5,226 L546.7,233.7" fill="none" stroke="#1a1a1a" stroke-width="1"/>
<path d="M554.4,196.8 C559,201 561,206 560.6,212 C560.3,218 559.5,222 557.5,226" fill="none" stroke="#1a1a1a" stroke-width="0.9"/>
<path d="M0,-20.10 A13.40,20.10 0 0 1 0,20.10" fill="none" stroke="#1a1a1a" stroke-width="1.0" transform="translate(540.03 210.12) rotate(14.3)"/>
<path d="M0,-20.10 A13.40,20.10 0 0 1 0,20.10" fill="none" stroke="#1a1a1a" stroke-width="1.0" transform="translate(537.08 209.37) rotate(14.3)"/>
<path d="M0,-20.10 A13.40,20.10 0 0 1 0,20.10" fill="none" stroke="#1a1a1a" stroke-width="1.0" transform="translate(534.12 208.61) rotate(14.3)"/>
<path d="M0,-20.10 A13.40,20.10 0 0 1 0,20.10" fill="none" stroke="#1a1a1a" stroke-width="1.0" transform="translate(531.17 207.86) rotate(14.3)"/>
<path d="M0,-20.10 A13.40,20.10 0 0 1 0,20.10" fill="none" stroke="#1a1a1a" stroke-width="1.0" transform="translate(528.21 207.11) rotate(14.3)"/>
<path d="M0,-20.10 A13.40,20.10 0 0 1 0,20.10" fill="none" stroke="#1a1a1a" stroke-width="1.0" transform="translate(525.26 206.35) rotate(14.3)"/>
<path d="M524,185.6 L548,190" fill="none" stroke="#1a1a1a" stroke-width="1"/>
<ellipse cx="522.30" cy="205.60" rx="13.40" ry="20.10" fill="#fff" stroke="#1a1a1a" stroke-width="1" transform="rotate(14.3 522.3 205.6)"/>
<ellipse cx="522.80" cy="205.70" rx="11.50" ry="17.00" fill="none" stroke="#1a1a1a" stroke-width="1" transform="rotate(14.3 522.8 205.7)"/>
<ellipse cx="526.10" cy="206.10" rx="7.70" ry="10.80" fill="none" stroke="#1a1a1a" stroke-width="1" transform="rotate(14.3 526.1 206.1)"/>
<ellipse cx="527.40" cy="206.60" rx="5.50" ry="9.10" fill="none" stroke="#1a1a1a" stroke-width="1.1" transform="rotate(14.3 527.4 206.6)"/>
<line x1="500.00" y1="199.50" x2="526.80" y2="206.30" stroke="#1a1a1a" stroke-width="1"/>
<text x="0" y="0" font-size="10" fill="#111" text-anchor="start" transform="translate(543.60 250.50) scale(0.88 1)">22</text>
<line x1="603.00" y1="225.30" x2="616.00" y2="228.60" stroke="#1a1a1a" stroke-width="1"/>
<ellipse cx="629.30" cy="232.00" rx="12.80" ry="15.60" fill="#fff" stroke="#1a1a1a" stroke-width="1" transform="rotate(10 629.3 232.0)"/>
<ellipse cx="628.10" cy="231.90" rx="13.00" ry="15.80" fill="#fff" stroke="#1a1a1a" stroke-width="1" transform="rotate(10 628.1 231.9)"/>
<ellipse cx="627.50" cy="231.70" rx="8.30" ry="9.95" fill="none" stroke="#1a1a1a" stroke-width="1" transform="rotate(10 627.5 231.7)"/>
<ellipse cx="628.30" cy="231.80" rx="7.30" ry="9.20" fill="none" stroke="#1a1a1a" stroke-width="0.8" transform="rotate(10 628.3 231.8)"/>
<line x1="616.00" y1="228.60" x2="626.90" y2="231.50" stroke="#1a1a1a" stroke-width="1"/>
<text x="0" y="0" font-size="10" fill="#111" text-anchor="start" transform="translate(625.50 260.20) scale(0.88 1)">21</text>
<line x1="641.80" y1="236.00" x2="660.00" y2="240.50" stroke="#1a1a1a" stroke-width="1"/>
<ellipse cx="733.90" cy="74.70" rx="10.40" ry="10.40" fill="#fff" stroke="#1a1a1a" stroke-width="1.2"/>
<text x="0" y="0" font-size="16.5" fill="#1a1a1a" font-weight="bold" text-anchor="middle" transform="translate(734.80 80.70) scale(0.86 1)" stroke="#000" stroke-width="0.5">B</text>
<line x1="733.40" y1="85.80" x2="733.40" y2="104.00" stroke="#1a1a1a" stroke-width="1"/>
<path d="M694.4,121 L694.4,124.6 A39.7,18.2 0 0 0 773.8,124.6 L773.8,121" fill="#fff" stroke="#e60000" stroke-width="1"/>
<ellipse cx="734.10" cy="121.00" rx="39.70" ry="18.20" fill="#fff" stroke="#e60000" stroke-width="1"/>
<ellipse cx="733.80" cy="121.30" rx="31.80" ry="15.20" fill="none" stroke="#e60000" stroke-width="1"/>
<path d="M702.60,123.60 A31.20,14.60 0 0 1 765.00,123.60" fill="none" stroke="#e60000" stroke-width="0.8"/>
<line x1="733.40" y1="100.00" x2="733.40" y2="121.80" stroke="#1a1a1a" stroke-width="1"/>
<ellipse cx="789.40" cy="125.70" rx="8.60" ry="8.60" fill="#fff" stroke="#e60000" stroke-width="1.15"/>
<text x="0" y="0" font-size="10.2" fill="#e60000" font-weight="bold" text-anchor="middle" transform="translate(789.80 129.30) scale(0.74 1)">805</text>
<line x1="733.40" y1="144.60" x2="733.40" y2="171.00" stroke="#1a1a1a" stroke-width="1"/>
<path d="M689.4,172 L689.4,192.2 L687.3,192.6 L687.3,205 C690,212 708,217.5 734.3,217.5 C760,217.5 778,212 781,205 L781,192.6 L779.1,192.2 L779.1,172" fill="#fff" stroke="#1a1a1a" stroke-width="1"/>
<path d="M686.9,201.6 L667.7,209.8 L656,238.9 C655,245 655,250 655.5,252.2 C656.5,258 658,262 660.4,264.6 C663,268 666,270.5 669.7,271.6 C672,272.6 675,273.3 679.5,273.9 L706,280.6 L741.5,285 L781.3,264.3 L778.3,203.9" fill="#fff" stroke="#1a1a1a" stroke-width="1"/>
<path d="M667.7,209.8 L708.3,228.2 L726.7,220.8 M708.3,228.2 L699.8,248.6 C697,256 695,261 691.8,264.6 C688,269 685,271.5 681.2,272.5" fill="none" stroke="#1a1a1a" stroke-width="1"/>
<path d="M726.7,220.8 L726.7,264.5 C726.5,275 722,280 712,280.6" fill="none" stroke="#1a1a1a" stroke-width="1"/>
<path d="M756.2,218.6 L741.5,285" fill="none" stroke="#1a1a1a" stroke-width="1"/>
<path d="M687.50,196.00 A46.80,20.50 0 0 0 781.10,196.00" fill="none" stroke="#1a1a1a" stroke-width="1.05"/>
<path d="M687.50,192.00 A46.80,20.50 0 0 0 781.10,192.00" fill="none" stroke="#1a1a1a" stroke-width="1.05"/>
<path d="M689.50,188.00 A44.80,20.50 0 0 0 779.10,188.00" fill="none" stroke="#1a1a1a" stroke-width="1.05"/>
<path d="M689.50,184.00 A44.80,20.50 0 0 0 779.10,184.00" fill="none" stroke="#1a1a1a" stroke-width="1.05"/>
<path d="M689.50,180.00 A44.80,20.50 0 0 0 779.10,180.00" fill="none" stroke="#1a1a1a" stroke-width="1.05"/>
<path d="M689.50,176.00 A44.80,20.50 0 0 0 779.10,176.00" fill="none" stroke="#1a1a1a" stroke-width="1.05"/>
<ellipse cx="734.30" cy="172.00" rx="44.80" ry="20.50" fill="#fff" stroke="#1a1a1a" stroke-width="1"/>
<ellipse cx="734.30" cy="173.80" rx="41.20" ry="17.20" fill="none" stroke="#1a1a1a" stroke-width="1"/>
<path d="M701.30,184.50 A33.00,9.50 0 0 1 767.30,184.50" fill="none" stroke="#1a1a1a" stroke-width="1"/>
<path d="M709.30,189.00 A25.00,8.00 0 0 1 759.30,189.00" fill="none" stroke="#1a1a1a" stroke-width="1"/>
<path d="M715.30,192.00 A19.00,6.50 0 0 1 753.30,192.00" fill="none" stroke="#1a1a1a" stroke-width="1"/>
<line x1="723.00" y1="192.20" x2="746.00" y2="192.20" stroke="#1a1a1a" stroke-width="1.6"/>
<line x1="733.60" y1="144.60" x2="733.60" y2="170.40" stroke="#1a1a1a" stroke-width="1"/>
<ellipse cx="678.30" cy="244.70" rx="17.90" ry="21.70" fill="#fff" stroke="#1a1a1a" stroke-width="1" transform="rotate(8 678.3 244.7)"/>
<path d="M0,-21.40 A17.70,21.40 0 0 0 0,21.40" fill="none" stroke="#1a1a1a" stroke-width="0.85" transform="translate(678.30 244.70) rotate(8)"/>
<path d="M0,-21.05 A16.27,21.05 0 0 0 0,21.05" fill="none" stroke="#1a1a1a" stroke-width="0.85" transform="translate(679.73 244.80) rotate(8)"/>
<path d="M0,-20.70 A14.85,20.70 0 0 0 0,20.70" fill="none" stroke="#1a1a1a" stroke-width="0.85" transform="translate(681.15 244.90) rotate(8)"/>
<path d="M0,-20.35 A13.43,20.35 0 0 0 0,20.35" fill="none" stroke="#1a1a1a" stroke-width="0.85" transform="translate(682.58 245.00) rotate(8)"/>
<path d="M0,-20.00 A12.00,20.00 0 0 0 0,20.00" fill="none" stroke="#1a1a1a" stroke-width="0.85" transform="translate(684.00 245.10) rotate(8)"/>
<path d="M0,-19.65 A10.57,19.65 0 0 0 0,19.65" fill="none" stroke="#1a1a1a" stroke-width="0.85" transform="translate(685.42 245.20) rotate(8)"/>
<path d="M0,-19.30 A9.15,19.30 0 0 0 0,19.30" fill="none" stroke="#1a1a1a" stroke-width="0.85" transform="translate(686.85 245.30) rotate(8)"/>
<path d="M0,-18.95 A7.72,18.95 0 0 0 0,18.95" fill="none" stroke="#1a1a1a" stroke-width="0.85" transform="translate(688.28 245.40) rotate(8)"/>
<path d="M0,-18.60 A6.30,18.60 0 0 0 0,18.60" fill="none" stroke="#1a1a1a" stroke-width="0.85" transform="translate(689.70 245.50) rotate(8)"/>
<path d="M0,-15 A3.2,15 0 0 0 0,15" fill="none" stroke="#1a1a1a" stroke-width="0.85" transform="translate(692.4 245.5) rotate(8)"/>
<ellipse cx="678.30" cy="244.70" rx="17.90" ry="21.70" fill="none" stroke="#1a1a1a" stroke-width="1.1" transform="rotate(8 678.3 244.7)"/>
<line x1="652.00" y1="238.50" x2="677.70" y2="244.20" stroke="#1a1a1a" stroke-width="1"/>
<line x1="702.40" y1="280.90" x2="702.40" y2="362.20" stroke="#1a1a1a" stroke-width="1"/>
<line x1="765.40" y1="272.50" x2="765.40" y2="362.20" stroke="#1a1a1a" stroke-width="1"/>
<path d="M730.6,285.5 L730.6,324 L765.5,306.5 M730.6,324 C745,326 760,320 765.5,312" fill="none" stroke="#1a1a1a" stroke-width="1"/>
<text x="0" y="0" font-size="10" fill="#111" text-anchor="start" transform="translate(774.30 347.50) scale(0.88 1)">3</text>
<path d="M701.3,362.2 L701.3,432.7 M766.3,362.2 L766.3,432.7" fill="none" stroke="#1a1a1a" stroke-width="1"/>
<path d="M701.30,362.20 A32.50,15.50 0 0 0 766.30,362.20" fill="none" stroke="#1a1a1a" stroke-width="1.3"/>
<path d="M701.30,377.70 A32.50,15.00 0 0 0 766.30,377.70" fill="none" stroke="#1a1a1a" stroke-width="1"/>
<path d="M701.30,432.70 A32.50,12.30 0 0 0 766.30,432.70" fill="none" stroke="#1a1a1a" stroke-width="1"/>
<path d="M705.2,436 L705.2,512.2 M763,436 L763,512.2" fill="none" stroke="#1a1a1a" stroke-width="1"/>
<path d="M705.5,512 C707,520 718,524.5 734,524.5 C750,524.5 761,520 762.7,512" fill="none" stroke="#1a1a1a" stroke-width="1"/>
<path d="M708.6,522 L708.6,560 M760.2,522 L760.2,560" fill="none" stroke="#1a1a1a" stroke-width="1"/>
<path d="M708.60,524.00 A25.80,6.20 0 0 0 760.20,524.00" fill="none" stroke="#1a1a1a" stroke-width="1.0"/>
<path d="M708.60,528.10 A25.80,6.20 0 0 0 760.20,528.10" fill="none" stroke="#1a1a1a" stroke-width="1.0"/>
<path d="M708.60,532.20 A25.80,6.20 0 0 0 760.20,532.20" fill="none" stroke="#1a1a1a" stroke-width="1.0"/>
<path d="M708.60,536.30 A25.80,6.20 0 0 0 760.20,536.30" fill="none" stroke="#1a1a1a" stroke-width="1.0"/>
<path d="M708.60,540.40 A25.80,6.20 0 0 0 760.20,540.40" fill="none" stroke="#1a1a1a" stroke-width="1.0"/>
<path d="M708.60,544.50 A25.80,6.20 0 0 0 760.20,544.50" fill="none" stroke="#1a1a1a" stroke-width="1.0"/>
<path d="M708.60,548.60 A25.80,6.20 0 0 0 760.20,548.60" fill="none" stroke="#1a1a1a" stroke-width="1.0"/>
<path d="M708.60,552.70 A25.80,6.20 0 0 0 760.20,552.70" fill="none" stroke="#1a1a1a" stroke-width="1.0"/>
<path d="M708.60,556.80 A25.80,6.20 0 0 0 760.20,556.80" fill="none" stroke="#1a1a1a" stroke-width="1.0"/>
<path d="M708.60,560.90 A25.80,6.20 0 0 0 760.20,560.90" fill="none" stroke="#1a1a1a" stroke-width="1.0"/>
<path d="M708.60,559.50 A25.80,6.00 0 0 0 760.20,559.50" fill="none" stroke="#1a1a1a" stroke-width="1.8"/>
<line x1="717.50" y1="564.00" x2="717.50" y2="580.00" stroke="#1a1a1a" stroke-width="1"/>
<line x1="751.40" y1="564.00" x2="751.40" y2="580.00" stroke="#1a1a1a" stroke-width="1"/>
<line x1="733.40" y1="566.00" x2="733.40" y2="618.00" stroke="#1a1a1a" stroke-width="1"/>
<path d="M714.8,581 L714.8,598.5 C715.8,600.5 720.8,600.5 721.4,598.5 L721.4,581" fill="#fff" stroke="#1a1a1a" stroke-width="1"/>
<ellipse cx="718.10" cy="581.00" rx="3.30" ry="1.60" fill="none" stroke="#1a1a1a" stroke-width="1"/>
<path d="M748.3,581 L748.3,598.5 C749.3,600.5 754.3,600.5 754.9,598.5 L754.9,581" fill="#fff" stroke="#1a1a1a" stroke-width="1"/>
<ellipse cx="751.60" cy="581.00" rx="3.30" ry="1.60" fill="none" stroke="#1a1a1a" stroke-width="1"/>
<text x="0" y="0" font-size="10" fill="#111" text-anchor="start" transform="translate(722.10 596.00) scale(0.88 1)">19</text>
<text x="0" y="0" font-size="10" fill="#111" text-anchor="start" transform="translate(755.80 596.00) scale(0.88 1)">19</text>
<ellipse cx="733.80" cy="628.20" rx="10.40" ry="10.40" fill="#fff" stroke="#1a1a1a" stroke-width="1.2"/>
<text x="0" y="0" font-size="16.5" fill="#1a1a1a" font-weight="bold" text-anchor="middle" transform="translate(734.70 634.20) scale(0.86 1)" stroke="#000" stroke-width="0.5">C</text>
<ellipse cx="874.50" cy="66.20" rx="10.40" ry="10.40" fill="#fff" stroke="#1a1a1a" stroke-width="1.2"/>
<text x="0" y="0" font-size="16.5" fill="#1a1a1a" font-weight="bold" text-anchor="middle" transform="translate(875.40 72.20) scale(0.86 1)" stroke="#000" stroke-width="0.5">C</text>
<path d="M864.75,89.6 L864.75,92.6 A9.5,4 0 0 0 883.75,92.6 L883.75,89.6" fill="#fff" stroke="#e60000" stroke-width="1.1"/>
<ellipse cx="874.25" cy="89.60" rx="9.50" ry="4.50" fill="#fff" stroke="#e60000" stroke-width="1.1"/>
<ellipse cx="874.10" cy="88.90" rx="6.00" ry="2.20" fill="none" stroke="#e60000" stroke-width="1.1"/>
<path d="M869.10,89.90 A5.00,1.90 0 0 0 879.10,89.90" fill="none" stroke="#e60000" stroke-width="1.6"/>
<line x1="874.50" y1="75.80" x2="874.50" y2="90.60" stroke="#1a1a1a" stroke-width="1"/>
<ellipse cx="894.80" cy="91.30" rx="8.60" ry="8.60" fill="#fff" stroke="#e60000" stroke-width="1.15"/>
<text x="0" y="0" font-size="10.2" fill="#e60000" font-weight="bold" text-anchor="middle" transform="translate(895.20 94.90) scale(0.74 1)">805</text>
<line x1="874.50" y1="97.80" x2="874.50" y2="104.00" stroke="#1a1a1a" stroke-width="1"/>
<path d="M864.90,107.10 L865.20,134.70 M883.50,107.10 L883.20,134.70" fill="none" stroke="#1a1a1a" stroke-width="0.9"/>
<path d="M868.62,109.17 A5.58,2.21 0 0 0 879.78,109.17" fill="none" stroke="#1a1a1a" stroke-width="1.9500000000000002"/>
<path d="M868.62,113.77 A5.58,2.21 0 0 0 879.78,113.77" fill="none" stroke="#1a1a1a" stroke-width="1.9500000000000002"/>
<path d="M868.62,118.37 A5.58,2.21 0 0 0 879.78,118.37" fill="none" stroke="#1a1a1a" stroke-width="1.9500000000000002"/>
<path d="M868.62,122.97 A5.58,2.21 0 0 0 879.78,122.97" fill="none" stroke="#1a1a1a" stroke-width="1.9500000000000002"/>
<path d="M868.62,127.57 A5.58,2.21 0 0 0 879.78,127.57" fill="none" stroke="#1a1a1a" stroke-width="1.9500000000000002"/>
<path d="M868.62,132.17 A5.58,2.21 0 0 0 879.78,132.17" fill="none" stroke="#1a1a1a" stroke-width="1.9500000000000002"/>
<path d="M864.90,111.70 A9.30,4.90 0 0 0 883.50,111.70" fill="none" stroke="#1a1a1a" stroke-width="1.3"/>
<path d="M864.90,116.30 A9.30,4.90 0 0 0 883.50,116.30" fill="none" stroke="#1a1a1a" stroke-width="1.3"/>
<path d="M864.90,120.90 A9.30,4.90 0 0 0 883.50,120.90" fill="none" stroke="#1a1a1a" stroke-width="1.3"/>
<path d="M864.90,125.50 A9.30,4.90 0 0 0 883.50,125.50" fill="none" stroke="#1a1a1a" stroke-width="1.3"/>
<path d="M864.90,130.10 A9.30,4.90 0 0 0 883.50,130.10" fill="none" stroke="#1a1a1a" stroke-width="1.3"/>
<path d="M864.90,134.70 A9.30,4.90 0 0 0 883.50,134.70" fill="none" stroke="#1a1a1a" stroke-width="1.3"/>
<ellipse cx="874.20" cy="107.10" rx="9.30" ry="4.90" fill="#fff" stroke="#1a1a1a" stroke-width="1.3"/>
<ellipse cx="874.70" cy="107.70" rx="6.51" ry="2.94" fill="none" stroke="#1a1a1a" stroke-width="1.3"/>
<text x="0" y="0" font-size="10" fill="#111" text-anchor="start" transform="translate(887.20 124.80) scale(0.88 1)">17</text>
<line x1="874.30" y1="138.00" x2="874.30" y2="146.00" stroke="#1a1a1a" stroke-width="1"/>
<path d="M869.8,146.5 L869.8,151.5 C871,153 873,153 874.3,153 C876,153 878,153 878.7,151.5 L878.7,146.5" fill="#fff" stroke="#e60000" stroke-width="1"/>
<ellipse cx="874.30" cy="146.50" rx="4.45" ry="1.80" fill="none" stroke="#e60000" stroke-width="1"/>
<ellipse cx="891.10" cy="148.90" rx="8.60" ry="8.60" fill="#fff" stroke="#e60000" stroke-width="1.15"/>
<text x="0" y="0" font-size="10.2" fill="#e60000" font-weight="bold" text-anchor="middle" transform="translate(891.50 152.50) scale(0.74 1)">805</text>
<line x1="874.30" y1="153.00" x2="874.30" y2="161.00" stroke="#1a1a1a" stroke-width="1"/>
<path d="M864.8,164.9 L864.8,188.5 C866,191 870,191.8 874.3,191.8 C879,191.8 883,191 883.8,188.5 L883.8,164.9" fill="#fff" stroke="#1a1a1a" stroke-width="1"/>
<ellipse cx="874.30" cy="164.90" rx="9.50" ry="4.00" fill="none" stroke="#1a1a1a" stroke-width="1"/>
<ellipse cx="874.30" cy="164.60" rx="6.00" ry="2.30" fill="none" stroke="#1a1a1a" stroke-width="1"/>
<line x1="874.30" y1="158.00" x2="874.30" y2="164.60" stroke="#1a1a1a" stroke-width="1"/>
<text x="0" y="0" font-size="10" fill="#111" text-anchor="start" transform="translate(886.60 179.00) scale(0.88 1)">77</text>
<path d="M850.3,222.8 L850.3,266.9 C852,273 862,276.2 874.35,276.2 C887,276.2 896.5,273 898.4,266.9 L898.4,222.8" fill="#fff" stroke="#1a1a1a" stroke-width="1"/>
<ellipse cx="874.35" cy="222.80" rx="24.05" ry="11.60" fill="#fff" stroke="#1a1a1a" stroke-width="1"/>
<ellipse cx="874.05" cy="223.00" rx="8.10" ry="3.80" fill="none" stroke="#1a1a1a" stroke-width="1.8"/>
<ellipse cx="869.25" cy="214.90" rx="3.00" ry="1.60" fill="none" stroke="#1a1a1a" stroke-width="1.0"/>
<ellipse cx="885.30" cy="215.60" rx="3.20" ry="1.60" fill="none" stroke="#1a1a1a" stroke-width="1.0"/>
<ellipse cx="859.30" cy="228.10" rx="3.20" ry="1.60" fill="none" stroke="#1a1a1a" stroke-width="1.0"/>
<ellipse cx="886.60" cy="229.00" rx="3.20" ry="1.60" fill="none" stroke="#1a1a1a" stroke-width="1.0"/>
<line x1="874.30" y1="191.80" x2="874.30" y2="222.50" stroke="#1a1a1a" stroke-width="1"/>
<path d="M858.6,275 L858.6,285.5 C860,289 866,289.8 873.7,289.8 C882,289.8 888,289 888.9,285.5 L888.9,275" fill="none" stroke="#1a1a1a" stroke-width="1"/>
<path d="M850.40,265.20 A23.95,9.00 0 0 0 898.30,265.20" fill="none" stroke="#1a1a1a" stroke-width="0.9"/>
<path d="M862.4,289 L862.4,347 C864,350 869,351 874.3,352.5 C880,351 884,350 885.7,347 L885.7,289" fill="none" stroke="#1a1a1a" stroke-width="1"/>
<text x="0" y="0" font-size="10" fill="#1a1aff" text-anchor="start" transform="translate(903.70 254.60) scale(0.88 1)">1</text>
<line x1="874.30" y1="352.00" x2="874.30" y2="370.00" stroke="#1a1a1a" stroke-width="1"/>
<path d="M842.3,381.8 L842.3,447.5 M905.9,381.8 L905.9,447.5" fill="none" stroke="#1a1a1a" stroke-width="1"/>
<ellipse cx="874.10" cy="381.60" rx="31.60" ry="14.40" fill="#fff" stroke="#1a1a1a" stroke-width="1"/>
<clipPath id="c20"><ellipse cx="874.1" cy="381.6" rx="30.8" ry="13.8"/></clipPath>
<g clip-path="url(#c20)">
<ellipse cx="874.10" cy="385.30" rx="30.65" ry="14.00" fill="none" stroke="#1a1a1a" stroke-width="1.0"/>
<ellipse cx="874.10" cy="389.00" rx="30.30" ry="14.00" fill="none" stroke="#1a1a1a" stroke-width="1.0"/>
<ellipse cx="874.10" cy="392.70" rx="29.95" ry="14.00" fill="none" stroke="#1a1a1a" stroke-width="1.0"/>
<ellipse cx="874.10" cy="396.40" rx="29.60" ry="14.00" fill="none" stroke="#1a1a1a" stroke-width="1.0"/>
<ellipse cx="874.10" cy="400.10" rx="29.25" ry="14.00" fill="none" stroke="#1a1a1a" stroke-width="1.0"/>
<ellipse cx="874.10" cy="403.80" rx="28.90" ry="14.00" fill="none" stroke="#1a1a1a" stroke-width="1.0"/>
<ellipse cx="874.10" cy="407.50" rx="28.55" ry="14.00" fill="none" stroke="#1a1a1a" stroke-width="1.0"/>
<ellipse cx="874.10" cy="411.20" rx="28.20" ry="14.00" fill="none" stroke="#1a1a1a" stroke-width="1.0"/>
</g>
<path d="M843.10,381.60 A31.00,14.60 0 0 0 905.10,381.60" fill="none" stroke="#1a1a1a" stroke-width="1.5"/>
<line x1="868.00" y1="395.20" x2="880.50" y2="395.20" stroke="#1a1a1a" stroke-width="1.4"/>
<line x1="874.30" y1="366.00" x2="874.30" y2="387.50" stroke="#1a1a1a" stroke-width="1"/>
<path d="M842.50,434.75 A31.70,12.75 0 0 0 905.90,434.75" fill="none" stroke="#1a1a1a" stroke-width="1"/>
<path d="M842.50,447.50 A31.70,14.25 0 0 0 905.90,447.50" fill="none" stroke="#1a1a1a" stroke-width="1"/>
<line x1="858.10" y1="445.50" x2="858.10" y2="461.00" stroke="#1a1a1a" stroke-width="1"/>
<line x1="859.90" y1="445.80" x2="859.90" y2="461.20" stroke="#1a1a1a" stroke-width="0.8"/>
<line x1="889.20" y1="445.50" x2="889.20" y2="461.00" stroke="#1a1a1a" stroke-width="0.7"/>
<line x1="891.00" y1="445.30" x2="891.00" y2="460.80" stroke="#1a1a1a" stroke-width="0.7"/>
<path d="M846.25,456 L846.25,484.4 C848,490 860,492.7 874,492.7 C888,492.7 900,490 901.75,484.4 L901.75,456" fill="none" stroke="#1a1a1a" stroke-width="1"/>
<text x="0" y="0" font-size="10" fill="#111" text-anchor="start" transform="translate(909.90 419.80) scale(0.88 1)">20</text>
<line x1="874.30" y1="493.00" x2="874.30" y2="520.00" stroke="#1a1a1a" stroke-width="1"/>
<path d="M855.2,519.3 L855.2,584.3 M893,519.3 L893,584.3" fill="none" stroke="#1a1a1a" stroke-width="1"/>
<ellipse cx="874.10" cy="519.30" rx="18.90" ry="8.30" fill="#fff" stroke="#1a1a1a" stroke-width="1"/>
<ellipse cx="874.30" cy="521.70" rx="14.40" ry="6.00" fill="none" stroke="#1a1a1a" stroke-width="0.9"/>
<ellipse cx="865.00" cy="524.20" rx="2.40" ry="3.00" fill="none" stroke="#1a1a1a" stroke-width="1.3" transform="rotate(35 865 524.2)"/>
<ellipse cx="883.30" cy="524.20" rx="2.40" ry="3.00" fill="none" stroke="#1a1a1a" stroke-width="1.3" transform="rotate(-35 883.3 524.2)"/>
<line x1="874.10" y1="494.50" x2="874.10" y2="520.00" stroke="#1a1a1a" stroke-width="1"/>
<path d="M850.7,587 L850.7,595 C853,600 862,602 874.3,602 C886,602 895,600 897.8,595 L897.8,587" fill="none" stroke="#1a1a1a" stroke-width="1"/>
<path d="M850.7,587 C852,583 854,582 855.2,581.8 M897.8,587 C896,583 894,582 893,581.8" fill="none" stroke="#1a1a1a" stroke-width="1"/>
<path d="M850.80,587.00 A23.50,7.50 0 0 0 897.80,587.00" fill="none" stroke="#1a1a1a" stroke-width="1"/>
<line x1="850.85" y1="587.49" x2="850.85" y2="595.46" stroke="#1a1a1a" stroke-width="0.6"/>
<line x1="851.25" y1="588.46" x2="851.25" y2="596.37" stroke="#1a1a1a" stroke-width="0.6"/>
<line x1="852.05" y1="589.41" x2="852.05" y2="597.25" stroke="#1a1a1a" stroke-width="0.6"/>
<line x1="853.22" y1="590.32" x2="853.22" y2="598.10" stroke="#1a1a1a" stroke-width="0.6"/>
<line x1="854.76" y1="591.17" x2="854.76" y2="598.89" stroke="#1a1a1a" stroke-width="0.6"/>
<line x1="856.63" y1="591.95" x2="856.63" y2="599.62" stroke="#1a1a1a" stroke-width="0.6"/>
<line x1="858.81" y1="592.64" x2="858.81" y2="600.26" stroke="#1a1a1a" stroke-width="0.6"/>
<line x1="861.24" y1="593.24" x2="861.24" y2="600.82" stroke="#1a1a1a" stroke-width="0.6"/>
<line x1="863.91" y1="593.73" x2="863.91" y2="601.28" stroke="#1a1a1a" stroke-width="0.6"/>
<line x1="866.75" y1="594.10" x2="866.75" y2="601.63" stroke="#1a1a1a" stroke-width="0.6"/>
<line x1="869.72" y1="594.36" x2="869.72" y2="601.87" stroke="#1a1a1a" stroke-width="0.6"/>
<line x1="872.76" y1="594.48" x2="872.76" y2="601.99" stroke="#1a1a1a" stroke-width="0.6"/>
<line x1="875.84" y1="594.48" x2="875.84" y2="601.99" stroke="#1a1a1a" stroke-width="0.6"/>
<line x1="878.88" y1="594.36" x2="878.88" y2="601.87" stroke="#1a1a1a" stroke-width="0.6"/>
<line x1="881.85" y1="594.10" x2="881.85" y2="601.63" stroke="#1a1a1a" stroke-width="0.6"/>
<line x1="884.69" y1="593.73" x2="884.69" y2="601.28" stroke="#1a1a1a" stroke-width="0.6"/>
<line x1="887.36" y1="593.24" x2="887.36" y2="600.82" stroke="#1a1a1a" stroke-width="0.6"/>
<line x1="889.79" y1="592.64" x2="889.79" y2="600.26" stroke="#1a1a1a" stroke-width="0.6"/>
<line x1="891.97" y1="591.95" x2="891.97" y2="599.62" stroke="#1a1a1a" stroke-width="0.6"/>
<line x1="893.84" y1="591.17" x2="893.84" y2="598.89" stroke="#1a1a1a" stroke-width="0.6"/>
<line x1="895.38" y1="590.32" x2="895.38" y2="598.10" stroke="#1a1a1a" stroke-width="0.6"/>
<line x1="896.55" y1="589.41" x2="896.55" y2="597.25" stroke="#1a1a1a" stroke-width="0.6"/>
<line x1="897.35" y1="588.46" x2="897.35" y2="596.37" stroke="#1a1a1a" stroke-width="0.6"/>
<line x1="897.75" y1="587.49" x2="897.75" y2="595.46" stroke="#1a1a1a" stroke-width="0.6"/>
<path d="M850.80,595.00 A23.50,7.00 0 0 0 897.80,595.00" fill="none" stroke="#1a1a1a" stroke-width="1"/>
<text x="0" y="0" font-size="10" fill="#111" text-anchor="start" transform="translate(896.20 554.90) scale(0.88 1)">600</text>
</svg>
</body></html>
